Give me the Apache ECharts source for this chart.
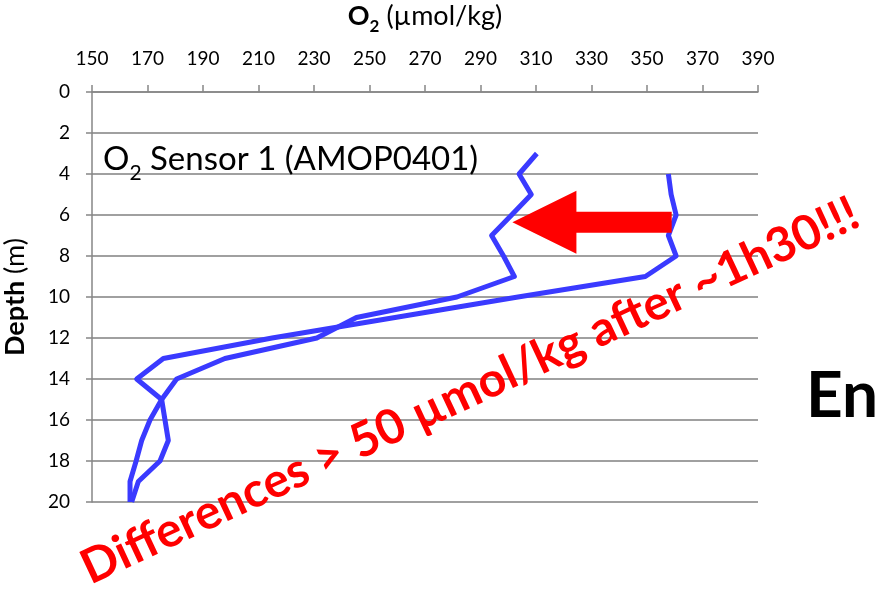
<!DOCTYPE html>
<html>
<head>
<meta charset="utf-8">
<script src="https://cdn.jsdelivr.net/npm/echarts@6/dist/echarts.min.js"></script>
<style>
  html, body { margin: 0; padding: 0; background: #ffffff; }
  #chart { width: 879px; height: 593px; }
</style>
</head>
<body>
<div id="chart"></div>
<script>
// Axis ranges
const o2Min = 150, o2Max = 390, o2Step = 20;
const depthMin = 0, depthMax = 20, depthStep = 2;

// Profile recorded first (higher O2 near the surface)
const depthFirst = [4, 5, 6, 7, 8, 9, 10, 11, 12, 13, 14, 15, 16, 17, 18, 19, 20];
const o2First    = [357.7, 358.7, 360.5, 357.7, 360.5, 349.4, 303.5, 259.2, 214.9, 175.7, 166.1, 175.1, 176.3, 177.5, 174.5, 166.7, 164.3];

// Profile recorded ~1h30 later
const depthLater = [3, 4, 5, 6, 7, 8, 9, 10, 11, 12, 13, 14, 15, 16, 17, 18, 19, 20];
const o2Later    = [310.3, 303.9, 308.3, 301.2, 294.0, 298.3, 302.2, 281.5, 245.3, 231.0, 197.9, 180.5, 175.1, 170.9, 167.9, 165.9, 163.7, 163.7];

// Arrow between the two profiles: [O2 at tail, O2 at tip, depth]
const arrowSpan = [358.9, 301.5, 6.35];

const FONT = 'Lato';
const lineColor = '#3a3aff';

const toPairs = (xs, ys) => xs.map((x, i) => [x, ys[i]]);

const chart = echarts.init(document.getElementById('chart'), null, { renderer: 'canvas' });

chart.setOption({
  animation: false,
  backgroundColor: '#ffffff',
  grid: { left: 92, right: 121, top: 92, bottom: 91, containLabel: false, outerBoundsMode: 'none' },
  xAxis: {
    type: 'value',
    position: 'top',
    min: o2Min, max: o2Max, interval: o2Step,
    name: '{b|O}{s|2}{n| (µmol/kg)}',
    nameLocation: 'middle',
    nameGap: 57,
    nameTextStyle: {
      fontFamily: FONT, color: '#000',
      rich: {
        b: { fontFamily: FONT, fontSize: 27, fontWeight: 'bold', color: '#000', lineHeight: 32, verticalAlign: 'top' },
        s: { fontFamily: FONT, fontSize: 17, fontWeight: 'bold', color: '#000', lineHeight: 18, verticalAlign: 'top', padding: [15, 0, 0, 0] },
        n: { fontFamily: FONT, fontSize: 27, color: '#000', lineHeight: 32, verticalAlign: 'top' }
      }
    },
    axisLine: { show: true, onZero: false, lineStyle: { color: '#868686', width: 1.5 } },
    axisTick: { show: true, inside: false, length: 7, lineStyle: { color: '#868686', width: 1.5 } },
    axisLabel: { fontFamily: FONT, fontSize: 19, color: '#000', margin: 24 },
    splitLine: { show: false }
  },
  yAxis: {
    type: 'value',
    inverse: true,
    min: depthMin, max: depthMax, interval: depthStep,
    name: '{b|Depth}{n| (m)}',
    nameLocation: 'middle',
    nameRotate: 90,
    nameGap: 63,
    nameTextStyle: {
      fontFamily: FONT, color: '#000',
      rich: {
        b: { fontFamily: FONT, fontSize: 27, fontWeight: 'bold', color: '#000' },
        n: { fontFamily: FONT, fontSize: 27, color: '#000' }
      }
    },
    axisLine: { show: true, onZero: false, lineStyle: { color: '#868686', width: 1.5 } },
    axisTick: { show: true, inside: false, length: 6, lineStyle: { color: '#868686', width: 1.5 } },
    axisLabel: { fontFamily: FONT, fontSize: 19, color: '#000', margin: 22 },
    splitLine: { show: true, lineStyle: { color: '#a0a0a0', width: 2 } }
  },
  series: [
    {
      name: 'first',
      type: 'line',
      data: toPairs(o2First, depthFirst),
      showSymbol: false,
      symbol: 'none',
      lineStyle: { color: lineColor, width: 5, join: 'round' },
      z: 3
    },
    {
      name: 'later',
      type: 'line',
      data: toPairs(o2Later, depthLater),
      showSymbol: false,
      symbol: 'none',
      lineStyle: { color: lineColor, width: 5, join: 'round' },
      z: 3
    }
  ]
});

// Annotations placed after the grid is laid out
const tail = chart.convertToPixel({ gridIndex: 0 }, [arrowSpan[0], arrowSpan[2]]);
const tip = chart.convertToPixel({ gridIndex: 0 }, [arrowSpan[1], arrowSpan[2]]);
const shaftHalf = 10.5, headHalf = 31.5, headLen = 64;
const headBase = tip[0] + headLen;
const cy = tip[1];

chart.setOption({
  graphic: [
    {
      type: 'text',
      left: 103, top: 143,
      style: {
        text: '{a|O}{s|2}{a| Sensor 1 (AMOP0401)}',
        rich: {
          a: { fontFamily: FONT, fontSize: 33, fill: '#000', lineHeight: 38, verticalAlign: 'top' },
          s: { fontFamily: FONT, fontSize: 21, fill: '#000', lineHeight: 22, verticalAlign: 'top', padding: [20, 0, 0, 0] }
        }
      },
      z: 10
    },
    {
      type: 'polygon',
      shape: {
        points: [
          [tail[0], cy - shaftHalf],
          [headBase, cy - shaftHalf],
          [headBase, cy - headHalf],
          [tip[0], cy],
          [headBase, cy + headHalf],
          [headBase, cy + shaftHalf],
          [tail[0], cy + shaftHalf]
        ]
      },
      style: { fill: '#ff0000' },
      z: 5
    },
    {
      type: 'text',
      x: 470, y: 391,
      rotation: 25 * Math.PI / 180,
      style: {
        text: 'Differences > 50 µmol/kg after ~1h30!!!',
        fontFamily: FONT, fontSize: 48, fontWeight: 'bold',
        fill: '#ff0000',
        align: 'center', verticalAlign: 'middle'
      },
      z: 10
    },
    {
      type: 'text',
      x: 806, y: 396,
      style: {
        text: 'En',
        fontFamily: FONT, fontSize: 64, fontWeight: 'bold',
        fill: '#000',
        align: 'left', verticalAlign: 'middle'
      },
      z: 10
    }
  ]
});
</script>
</body>
</html>
